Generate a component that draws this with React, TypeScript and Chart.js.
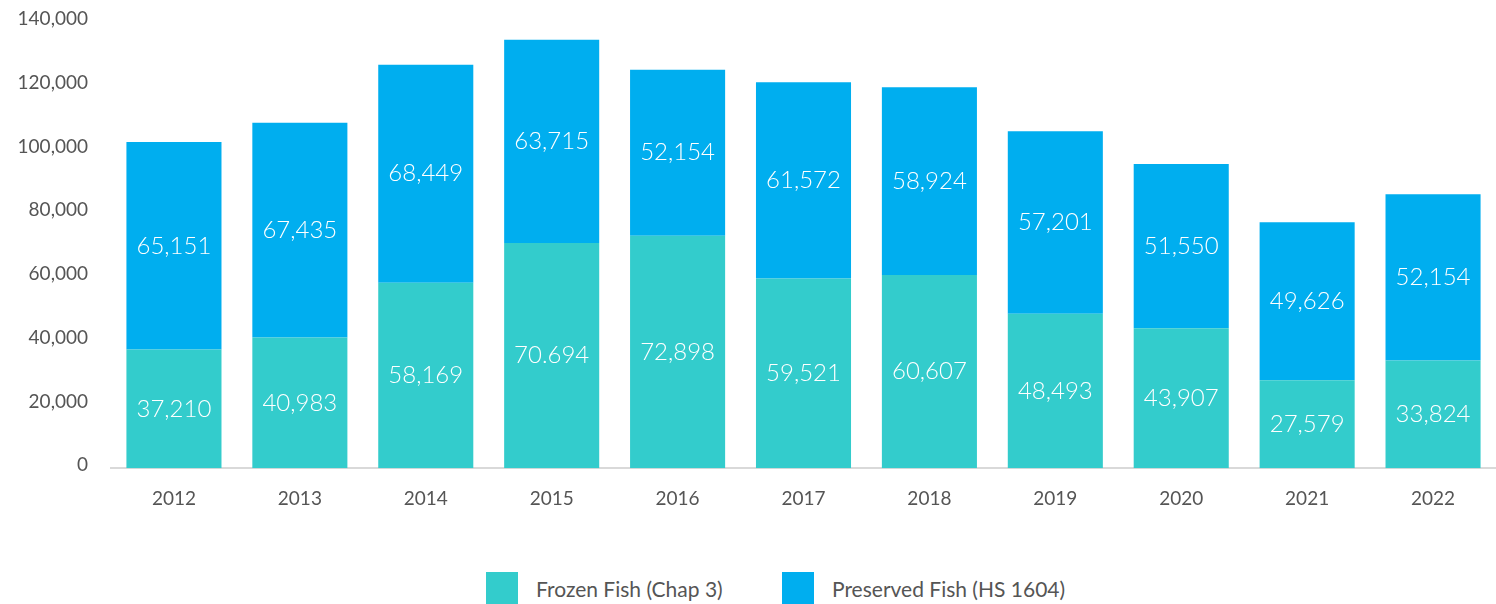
import React, { useEffect, useRef } from "react";
import { Chart, registerables } from "chart.js";

Chart.register(...registerables);

const years = ["2012", "2013", "2014", "2015", "2016", "2017", "2018", "2019", "2020", "2021", "2022"];
const frozenFish = [37210, 40983, 58169, 70694, 72898, 59521, 60607, 48493, 43907, 27579, 33824];
const preservedFish = [65151, 67435, 68449, 63715, 52154, 61572, 58924, 57201, 51550, 49626, 52154];
// the source prints the 2015 frozen value with a period separator
const frozenLabelOverrides: Record<number, string> = { 3: "70.694" };

const FROZEN_COLOR = "#33CCCC";
const PRESERVED_COLOR = "#00AEEF";
const FONT = "Lato, 'Open Sans', sans-serif";
const TEXT_COLOR = "#555555";

const fmt = (v: number) => v.toLocaleString("en-US");

const segmentLabels = {
  id: "segmentLabels",
  afterDatasetsDraw(chart: any) {
    const ctx = chart.ctx;
    ctx.save();
    ctx.fillStyle = "#ffffff";
    ctx.font = `300 24px ${FONT}`;
    ctx.textAlign = "center";
    ctx.textBaseline = "middle";
    chart.data.datasets.forEach((ds: any, di: number) => {
      const meta = chart.getDatasetMeta(di);
      meta.data.forEach((bar: any, i: number) => {
        const v = ds.data[i] as number;
        let text = fmt(v);
        if (di === 0 && frozenLabelOverrides[i]) text = frozenLabelOverrides[i];
        const y = (bar.y + bar.base) / 2;
        ctx.fillText(text, bar.x, y);
      });
    });
    ctx.restore();
  },
};

export default function App() {
  const canvasRef = useRef<HTMLCanvasElement>(null);

  useEffect(() => {
    document.body.style.margin = "0";
    const chart = new Chart(canvasRef.current!, {
      type: "bar",
      data: {
        labels: years,
        datasets: [
          { label: "Frozen Fish (Chap 3)", data: frozenFish, backgroundColor: FROZEN_COLOR },
          { label: "Preserved Fish (HS 1604)", data: preservedFish, backgroundColor: PRESERVED_COLOR },
        ],
      },
      options: {
        animation: false,
        responsive: false,
        maintainAspectRatio: false,
        layout: { padding: { top: 22, right: 0, bottom: 0, left: 0 } },
        datasets: { bar: { barPercentage: 0.755, categoryPercentage: 1 } } as any,
        plugins: { legend: { display: false }, tooltip: { enabled: false } },
        scales: {
          x: {
            stacked: true,
            grid: { display: false, drawTicks: false },
            border: { display: true, color: "#d9d9d9", width: 2 },
            ticks: { color: TEXT_COLOR, font: { family: FONT, size: 19 }, padding: 19 },
          },
          y: {
            stacked: true,
            min: 0,
            max: 140000,
            afterFit: (scale: any) => {
              scale.width = 111;
              scale.paddingTop = 0;
              scale.paddingBottom = 0;
            },
            grid: { display: false, drawTicks: false },
            border: { display: false },
            ticks: {
              stepSize: 20000,
              color: TEXT_COLOR,
              font: { family: FONT, size: 19 },
              padding: 23,
              labelOffset: -3,
              callback: (v: any) => fmt(Number(v)),
            },
          },
        },
      },
      plugins: [segmentLabels],
    });
    return () => chart.destroy();
  }, []);

  const legendItem = (color: string, text: string, left: number) => (
    <div style={{ position: "absolute", left, top: 572, height: 32, display: "flex", alignItems: "center" }}>
      <div style={{ width: 32, height: 32, background: color }} />
      <span style={{ marginLeft: 18, fontFamily: FONT, fontSize: 21, color: TEXT_COLOR, whiteSpace: "nowrap" }}>{text}</span>
    </div>
  );

  return (
    <div style={{ position: "relative", width: 1496, height: 604, background: "#fff", overflow: "hidden" }}>
      <canvas ref={canvasRef} width={1496} height={529} style={{ position: "absolute", left: 0, top: 0 }} />
      {legendItem(FROZEN_COLOR, "Frozen Fish (Chap 3)", 486)}
      {legendItem(PRESERVED_COLOR, "Preserved Fish (HS 1604)", 782)}
    </div>
  );
}
